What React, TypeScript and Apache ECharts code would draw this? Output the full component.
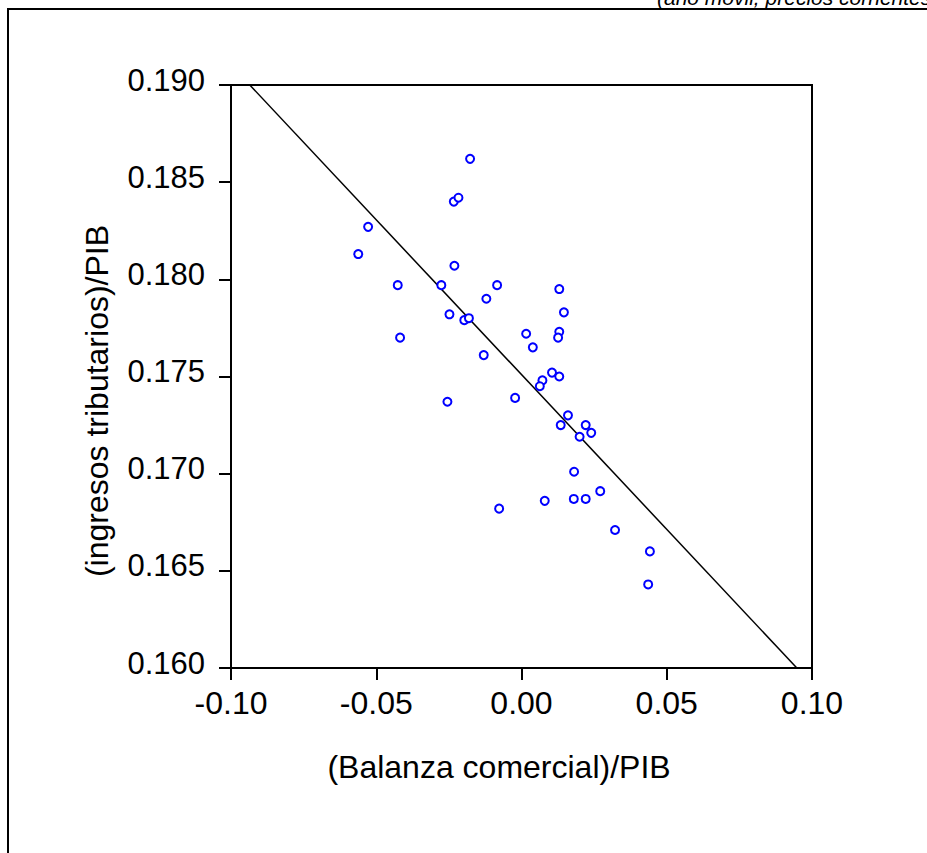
import React, { useEffect, useRef } from "react";
import * as echarts from "echarts";

// Scatter data: (Balanza comercial)/PIB vs (ingresos tributarios)/PIB
const balanzaPIB: number[] = [
  -0.0177, -0.0233, -0.0217, -0.0528, -0.0562, -0.0231, -0.0426, -0.0276, -0.0084, -0.0121,
  -0.0248, -0.0197, -0.0181, -0.0418, -0.0130, -0.0255, -0.0022, 0.0130, 0.0146, 0.0130,
  0.0016, 0.0126, 0.0039, 0.0105, 0.0130, 0.0072, 0.0063, 0.0160, 0.0135, 0.0221,
  0.0240, 0.0200, 0.0181, 0.0271, 0.0080, 0.0180, 0.0221, -0.0077, 0.0322, 0.0442,
  0.0436,
];
const ingresosPIB: number[] = [
  0.1862, 0.1840, 0.1842, 0.1827, 0.1813, 0.1807, 0.1797, 0.1797, 0.1797, 0.1790,
  0.1782, 0.1779, 0.1780, 0.1770, 0.1761, 0.1737, 0.1739, 0.1795, 0.1783, 0.1773,
  0.1772, 0.1770, 0.1765, 0.1752, 0.1750, 0.1748, 0.1745, 0.1730, 0.1725, 0.1725,
  0.1721, 0.1719, 0.1701, 0.1691, 0.1686, 0.1687, 0.1687, 0.1682, 0.1671, 0.1660,
  0.1643,
];

// Fitted regression line
const regIntercept = 0.1751;
const regSlope = -0.1593;

const xMin = -0.1;
const xMax = 0.1;
const xInterval = 0.05;
const yMin = 0.16;
const yMax = 0.19;
const yInterval = 0.005;

const xTitle = "(Balanza comercial)/PIB";
const yTitle = "(ingresos tributarios)/PIB";
const topNote = "(año móvil, precios corrientes)";

export default function App() {
  const ref = useRef<HTMLDivElement>(null);

  useEffect(() => {
    if (!ref.current) return;
    const chart = echarts.init(ref.current, null, { renderer: "svg" });
    const points = balanzaPIB.map((x, i) => [x, ingresosPIB[i]]);
    const lineData = [
      [(yMax - regIntercept) / regSlope, yMax],
      [(yMin - regIntercept) / regSlope, yMin],
    ];
    const font = "Liberation Sans, Arial, sans-serif";

    chart.setOption({
      animation: false,
      backgroundColor: "#ffffff",
      grid: {
        left: 231,
        top: 85,
        width: 581,
        height: 583,
        show: true,
        borderColor: "#000",
        borderWidth: 2,
        backgroundColor: "transparent",
      },
      xAxis: {
        type: "value",
        min: xMin,
        max: xMax,
        interval: xInterval,
        splitLine: { show: false },
        axisLine: { show: true, onZero: false, lineStyle: { color: "#000", width: 2 } },
        axisTick: { show: true, inside: false, length: 12, lineStyle: { color: "#000", width: 2 } },
        axisLabel: {
          color: "#000",
          fontFamily: font,
          fontSize: 32,
          margin: 19,
          formatter: (v: number) => v.toFixed(2),
        },
      },
      yAxis: {
        type: "value",
        min: yMin,
        max: yMax,
        interval: yInterval,
        splitLine: { show: false },
        axisLine: { show: true, onZero: false, lineStyle: { color: "#000", width: 2 } },
        axisTick: { show: true, inside: false, length: 12, lineStyle: { color: "#000", width: 2 } },
        axisLabel: {
          color: "#000",
          fontFamily: font,
          fontSize: 31,
          margin: 26,
          lineHeight: 10,
          verticalAlign: "bottom",
          formatter: (v: number) => v.toFixed(3),
        },
      },
      series: [
        {
          type: "line",
          data: lineData,
          symbol: "none",
          lineStyle: { color: "#000", width: 1.5 },
          silent: true,
          z: 2,
        },
        {
          type: "scatter",
          data: points,
          symbol: "emptyCircle",
          symbolSize: 8,
          itemStyle: { color: "#0000ff", borderWidth: 1.8, opacity: 1 },
          z: 3,
        },
      ],
      graphic: [
        {
          type: "rect",
          shape: { x: 8, y: 9, width: 1200, height: 1200 },
          style: { fill: "none", stroke: "#000", lineWidth: 2 },
          silent: true,
        },
        {
          type: "text",
          x: 657,
          y: 8,
          style: {
            text: topNote,
            fontFamily: font,
            fontStyle: "italic",
            fontSize: 21,
            fill: "#000",
            align: "left",
            verticalAlign: "bottom",
          },
        },
        {
          type: "text",
          x: 499,
          y: 767,
          style: {
            text: xTitle,
            fontFamily: font,
            fontSize: 32,
            fill: "#000",
            align: "center",
            verticalAlign: "middle",
          },
        },
        {
          type: "text",
          x: 97,
          y: 401,
          rotation: Math.PI / 2,
          style: {
            text: yTitle,
            fontFamily: font,
            fontSize: 32,
            fill: "#000",
            align: "center",
            verticalAlign: "middle",
          },
        },
      ],
    });
    return () => chart.dispose();
  }, []);

  return (
    <div
      ref={ref}
      style={{ position: "absolute", left: 0, top: 0, width: 927, height: 853 }}
    />
  );
}
